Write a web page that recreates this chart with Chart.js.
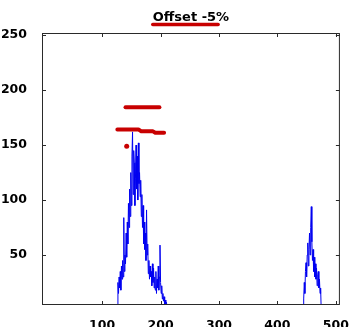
<!DOCTYPE html>
<html>
<head>
<meta charset="utf-8">
<script src="https://cdn.jsdelivr.net/npm/chart.js@4/dist/chart.umd.min.js"></script>
<style>
  html, body { margin:0; padding:0; background:#fff; }
</style>
</head>
<body>
<canvas id="c" width="354" height="327"></canvas>
<script>
// ---- DATA ----
const titleText = 'Offset -5%';
const xTicks = [100, 200, 300, 400, 500];
const yTicks = [50, 100, 150, 200, 250];

// blue trace, first cluster starts at x=126, one value per unit
const leftStart = 126;
const leftVals = [0,25,15,30,20,35,18,40,28,45,30,84,35,50,42,70,48,80,60,97,
  75,110,85,125,95,140,162,105,145,134,95,120,150,110,140,100,152,115,125,103,
  118,85,105,75,95,60,80,55,70,45,91,50,60,33,45,28,40,30,35,22,
  42,25,38,20,30,18,35,15,28,20,40,18,30,59,25,15,22,10,15,8,
  12,5,9,4,7,3,5,0];

// second cluster starts at x=444
const rightStart = 444;
const rightVals = [0,10,25,15,35,43,30,50,61,40,55,70,50,75,94,62,45,55,35,48,
  30,42,28,38,22,32,35,20,28,15,20,0];

// red markers
const topBandX = [140, 198];
const topBandY = [184.5, 184.5];
const lowBandX = [126, 162, 167, 187, 191, 206];
const lowBandY = [164.3, 164.3, 162.5, 162.5, 161.2, 161.2];
const dotX = [142];
const dotY = [149];

const red = '#c80000';
const blue = '#0000f0';

function pts(xs, ys) { return xs.map((x, i) => ({x: x, y: ys[i]})); }
function run(start, vals) { return vals.map((v, i) => ({x: start + i, y: v})); }

// ---- BOX, INWARD TICKS, TITLE ----
const boxPlugin = {
  id: 'box',
  afterDraw(chart) {
    const {ctx, chartArea: a, scales: {x, y}} = chart;
    ctx.save();
    ctx.strokeStyle = '#2a2a2a';
    ctx.lineWidth = 1;
    ctx.strokeRect(a.left + 0.5, a.top + 0.5, a.right - a.left - 1, a.bottom - a.top - 1);
    ctx.beginPath();
    x.ticks.forEach(t => {
      const px = Math.round(x.getPixelForValue(t.value)) + 0.5;
      ctx.moveTo(px, a.bottom); ctx.lineTo(px, a.bottom - 4);
      ctx.moveTo(px, a.top); ctx.lineTo(px, a.top + 4);
    });
    y.ticks.forEach(t => {
      const py = Math.round(y.getPixelForValue(t.value)) + 0.5;
      ctx.moveTo(a.left, py); ctx.lineTo(a.left + 4, py);
      ctx.moveTo(a.right, py); ctx.lineTo(a.right - 4, py);
    });
    ctx.stroke();

    // title
    ctx.font = 'bold 13px "DejaVu Sans"';
    ctx.fillStyle = '#000';
    ctx.textAlign = 'center';
    ctx.textBaseline = 'alphabetic';
    const cx = (a.left + a.right) / 2;
    ctx.fillText(titleText, cx, 21);
    const w = ctx.measureText(titleText).width;
    const uw = ctx.measureText(titleText.slice(0, -1)).width;
    const l = cx - w / 2;
    ctx.strokeStyle = red;
    ctx.lineWidth = 3.5;
    ctx.lineCap = 'round';
    ctx.beginPath();
    ctx.moveTo(l, 24.5); ctx.lineTo(l + uw + 2, 24.5);
    ctx.stroke();
    ctx.restore();
  }
};

const tickFont = {family: '"DejaVu Sans"', size: 12.5, weight: 'bold'};

new Chart(document.getElementById('c'), {
  type: 'line',
  data: {
    datasets: [
      { data: pts(topBandX, topBandY), borderColor: red, borderWidth: 4, borderCapStyle: 'round', pointRadius: 0 },
      { data: pts(lowBandX, lowBandY), borderColor: red, borderWidth: 4, borderCapStyle: 'round', borderJoinStyle: 'round', pointRadius: 0 },
      { data: pts(dotX, dotY), showLine: false, pointRadius: 2.5, pointBackgroundColor: red, pointBorderWidth: 0 },
      { data: run(leftStart, leftVals), borderColor: blue, borderWidth: 1, pointRadius: 0 },
      { data: run(rightStart, rightVals), borderColor: blue, borderWidth: 1, pointRadius: 0 }
    ]
  },
  options: {
    responsive: false,
    animation: false,
    events: [],
    layout: { padding: { top: 33, right: 10, left: 0, bottom: 0 } },
    elements: { line: { tension: 0 } },
    plugins: { legend: { display: false }, tooltip: { enabled: false }, title: { display: false } },
    scales: {
      x: {
        type: 'linear', min: -3, max: 507,
        grid: { display: false }, border: { display: false },
        afterBuildTicks: s => { s.ticks = xTicks.map(v => ({value: v})); },
        afterFit: s => { s.height = 22; },
        ticks: { color: '#000', font: tickFont, padding: 5, maxRotation: 0 }
      },
      y: {
        type: 'linear', min: 4.5, max: 252,
        grid: { display: false }, border: { display: false },
        afterBuildTicks: s => { s.ticks = yTicks.map(v => ({value: v})); },
        afterFit: s => { s.width = 42; },
        ticks: { color: '#000', font: tickFont, padding: 7 }
      }
    }
  },
  plugins: [boxPlugin]
});
</script>
</body>
</html>
